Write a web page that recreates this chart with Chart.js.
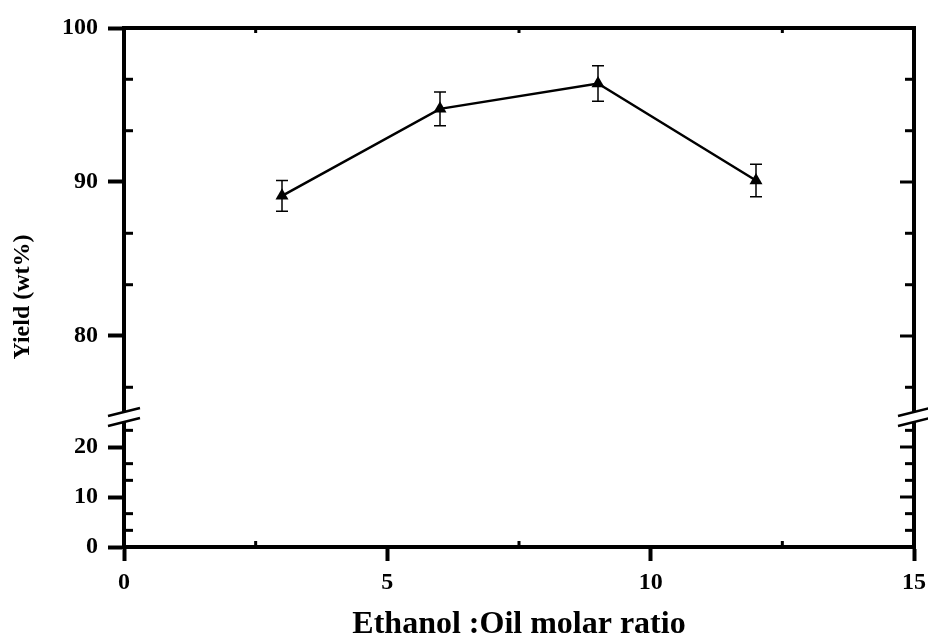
<!DOCTYPE html>
<html>
<head>
<meta charset="utf-8">
<script src="https://cdn.jsdelivr.net/npm/chart.js@4.4.1/dist/chart.umd.min.js"></script>
<style>
  body { margin: 0; background: #fff; }
  canvas { display: block; }
</style>
</head>
<body>
<canvas id="yieldChart" width="928" height="637"></canvas>
<script>
// data
const ratios = [3, 6, 9, 12];
const yields = [89.1, 94.75, 96.4, 90.1];
const yieldErrors = [1.0, 1.1, 1.15, 1.05];

// axes
const xTicks = [0, 5, 10, 15];
const xMinorTicks = [2.5, 7.5, 12.5];
const upperTicks = [80, 90, 100];
const upperMinorTicks = [76.67, 83.33, 86.67, 93.33, 96.67];
const lowerTicks = [0, 10, 20];
const lowerMinorTicks = [3.33, 6.67, 13.33, 16.67, 23.33];

const tickFont = { family: "'Liberation Serif', 'Times New Roman', serif", size: 24, weight: 'bold' };
const ink = '#000';

function fixedTicks(values) {
    return scale => { scale.ticks = values.map(v => ({ value: v })); };
}

const axisDecor = {
    id: 'axisDecor',
    afterDatasetsDraw(chart) {
        const ctx = chart.ctx;
        const x = chart.scales.x, y = chart.scales.yTop;
        ctx.save();
        ctx.strokeStyle = ink;
        ctx.lineWidth = 1.5;
        ratios.forEach((r, i) => {
            const px = x.getPixelForValue(r);
            const top = y.getPixelForValue(yields[i] + yieldErrors[i]);
            const bot = y.getPixelForValue(yields[i] - yieldErrors[i]);
            ctx.beginPath();
            ctx.moveTo(px, top); ctx.lineTo(px, bot);
            ctx.moveTo(px - 6, top); ctx.lineTo(px + 6, top);
            ctx.moveTo(px - 6, bot); ctx.lineTo(px + 6, bot);
            ctx.stroke();
        });
        ctx.restore();
    },
    afterDraw(chart) {
        const ctx = chart.ctx;
        const area = chart.chartArea;
        const { x, yTop, yLow } = chart.scales;
        ctx.save();
        ctx.strokeStyle = ink;
        ctx.lineCap = 'butt';

        // top and right frame
        ctx.lineWidth = 4;
        ctx.beginPath();
        ctx.moveTo(area.left - 2, area.top);
        ctx.lineTo(area.right, area.top);
        ctx.lineTo(area.right, area.bottom + 2);
        ctx.stroke();

        // inward ticks
        ctx.lineWidth = 3;
        const lTick = (len, yPos) => { ctx.beginPath(); ctx.moveTo(area.left, yPos); ctx.lineTo(area.left + len, yPos); ctx.stroke(); };
        const rTick = (len, yPos) => { ctx.beginPath(); ctx.moveTo(area.right, yPos); ctx.lineTo(area.right - len, yPos); ctx.stroke(); };
        [[yTop, upperMinorTicks, upperTicks], [yLow, lowerMinorTicks, lowerTicks]].forEach(([s, minor, major]) => {
            minor.forEach(v => {
                const p = s.getPixelForValue(v);
                lTick(9, p);
                rTick(9, p);
            });
            major.forEach(v => rTick(14, s.getPixelForValue(v)));
        });
        xMinorTicks.forEach(v => {
            const p = x.getPixelForValue(v);
            ctx.beginPath();
            ctx.moveTo(p, area.bottom); ctx.lineTo(p, area.bottom - 6);
            ctx.moveTo(p, area.top); ctx.lineTo(p, area.top + 5);
            ctx.stroke();
        });

        // axis break marks
        const yb = yTop.bottom;
        [area.left, area.right].forEach(cx => {
            ctx.fillStyle = '#fff';
            ctx.beginPath();
            ctx.moveTo(cx - 16, yb - 1); ctx.lineTo(cx + 16, yb - 9);
            ctx.lineTo(cx + 16, yb + 1); ctx.lineTo(cx - 16, yb + 9);
            ctx.closePath();
            ctx.fill();
            ctx.lineWidth = 2.5;
            ctx.beginPath();
            ctx.moveTo(cx - 16, yb - 1); ctx.lineTo(cx + 16, yb - 9);
            ctx.moveTo(cx - 16, yb + 9); ctx.lineTo(cx + 16, yb + 1);
            ctx.stroke();
        });

        // axis titles
        ctx.fillStyle = ink;
        ctx.textAlign = 'center';
        ctx.textBaseline = 'middle';
        ctx.font = "bold 32px 'Liberation Serif', 'Times New Roman', serif";
        ctx.fillText('Ethanol :Oil molar ratio', (area.left + area.right) / 2, 625);
        ctx.translate(23, 297);
        ctx.rotate(-Math.PI / 2);
        ctx.font = "bold 24px 'Liberation Serif', 'Times New Roman', serif";
        ctx.fillText('Yield (wt%)', 0, 0);
        ctx.restore();
    }
};

new Chart(document.getElementById('yieldChart').getContext('2d'), {
    type: 'scatter',
    data: {
        datasets: [{
            data: ratios.map((r, i) => ({ x: r, y: yields[i] })),
            showLine: true,
            yAxisID: 'yTop',
            borderColor: ink,
            borderWidth: 2.5,
            backgroundColor: ink,
            pointStyle: 'triangle',
            pointRadius: 7.5,
            pointBorderWidth: 0
        }]
    },
    options: {
        responsive: false,
        animation: false,
        layout: { padding: { top: 28, right: 14, left: 0, bottom: 0 } },
        plugins: { legend: { display: false }, tooltip: { enabled: false } },
        scales: {
            x: {
                type: 'linear', min: 0, max: 15,
                afterBuildTicks: fixedTicks(xTicks),
                afterFit: s => { s.height = 90; s.paddingLeft = 0; s.paddingRight = 0; },
                border: { color: ink, width: 4 },
                grid: { drawOnChartArea: false, tickLength: 14, tickWidth: 4, tickColor: ink },
                ticks: { color: ink, font: tickFont, padding: 7, autoSkip: false, maxRotation: 0 }
            },
            yLow: {
                type: 'linear', position: 'left', stack: 'yy', stackWeight: 130,
                min: 0, max: 26,
                afterBuildTicks: fixedTicks(lowerTicks),
                afterFit: s => { s.width = 124; },
                border: { color: ink, width: 4 },
                grid: { drawOnChartArea: false, tickLength: 16, tickWidth: 4, tickColor: ink },
                ticks: { color: ink, font: tickFont, padding: 10 }
            },
            yTop: {
                type: 'linear', position: 'left', stack: 'yy', stackWeight: 389,
                min: 74.74, max: 100,
                afterBuildTicks: fixedTicks(upperTicks),
                afterFit: s => { s.width = 124; },
                border: { color: ink, width: 4 },
                grid: { drawOnChartArea: false, tickLength: 16, tickWidth: 4, tickColor: ink },
                ticks: { color: ink, font: tickFont, padding: 10 }
            }
        }
    },
    plugins: [axisDecor]
});
</script>
</body>
</html>
